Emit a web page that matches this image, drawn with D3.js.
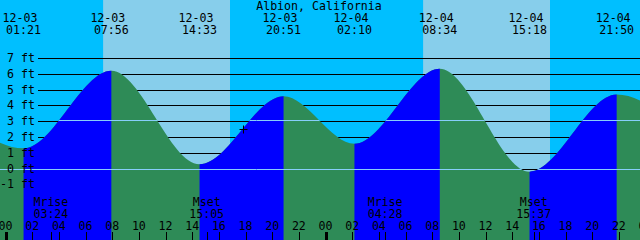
<!DOCTYPE html>
<html>
<head>
<meta charset="utf-8">
<script src="https://cdn.jsdelivr.net/npm/d3@7"></script>
<style>
  body { margin: 0; background: #fff; }
  svg { display: block; }
  text { font-family: "DejaVu Sans Mono", monospace; font-size: 11.6px; fill: #000; }
</style>
</head>
<body>
<div id="chart"></div>
<script>
// tide extremes (first and last are just outside the window)
var tideTimes = ["12-02 19:09", "12-03 01:21", "12-03 07:56", "12-03 14:33", "12-03 20:51",
                 "12-04 02:10", "12-04 08:34", "12-04 15:18", "12-04 21:50", "12-05 03:00"];
var tideLevels = [4.5, 1.28, 6.2, 0.27, 4.58, 1.57, 6.32, -0.2, 4.68, 2.2];

var sunRise = ["12-03 07:19", "12-04 07:19"];
var sunSet = ["12-03 16:50", "12-04 16:50"];

var moonTimes = ["12-03 03:24", "12-03 15:05", "12-04 04:28", "12-04 15:37"];
var moonNames = ["Mrise", "Mset", "Mrise", "Mset"];

var levelTicks = [-1, 0, 1, 2, 3, 4, 5, 6, 7];
var meanLevel = 3.05;
var markTime = "12-03 17:50";
var markLevel = 2.5;
var title = "Albion, California";

var width = 640, height = 240;

var parse = d3.timeParse("%m-%d %H:%M");
var fmtDate = d3.timeFormat("%m-%d");
var fmtTime = d3.timeFormat("%H:%M");

var tides = tideTimes.map(function(t, i) { return { t: parse(t), v: tideLevels[i] }; });

// window starts a little before midnight
var start = parse("12-02 23:35");
var end = d3.timeHour.offset(start, 48);

var x = d3.scaleTime().domain([start, end]).range([0, width]);
var y = d3.scaleLinear().domain([0, 7]).range([168.5, 58]);

var svg = d3.select("#chart").append("svg")
  .attr("width", width)
  .attr("height", height);

// night / day background
svg.append("rect").attr("width", width).attr("height", height).attr("fill", "#00bfff");
svg.selectAll(".day")
  .data(sunRise)
  .enter().append("rect")
  .attr("class", "day")
  .attr("x", function(d) { return x(parse(d)); })
  .attr("width", function(d, i) { return x(parse(sunSet[i])) - x(parse(d)); })
  .attr("y", 0)
  .attr("height", height)
  .attr("fill", "#87ceeb");

// grid lines
svg.selectAll(".grid")
  .data(levelTicks)
  .enter().append("line")
  .attr("class", "grid")
  .attr("x1", 38).attr("x2", width)
  .attr("y1", function(d) { return Math.round(y(d)) + 0.5; })
  .attr("y2", function(d) { return Math.round(y(d)) + 0.5; })
  .attr("stroke", "#000");

// water
var area = d3.area()
  .x(function(d) { return x(d.t); })
  .y0(height)
  .y1(function(d) { return y(d.v); })
  .curve(d3.curveMonotoneX);

var defs = svg.append("defs");
var rising = defs.append("clipPath").attr("id", "rising");
for (var i = 0; i < tides.length - 1; i++) {
  if (tides[i + 1].v > tides[i].v) {
    rising.append("rect")
      .attr("x", x(tides[i].t))
      .attr("width", x(tides[i + 1].t) - x(tides[i].t))
      .attr("y", 0).attr("height", height);
  }
}
defs.append("clipPath").attr("id", "water")
  .append("path").attr("d", area(tides));

svg.append("path").attr("d", area(tides)).attr("fill", "#2e8b57");
svg.append("path").attr("d", area(tides)).attr("fill", "#0000ff")
  .attr("clip-path", "url(#rising)");

// datum and mean lines over the water
svg.append("g").attr("clip-path", "url(#water)")
  .selectAll("line")
  .data([0, meanLevel])
  .enter().append("line")
  .attr("x1", 0).attr("x2", width)
  .attr("y1", function(d) { return Math.round(y(d)) + 0.5; })
  .attr("y2", function(d) { return Math.round(y(d)) + 0.5; })
  .attr("stroke", "#87cefa");

// level labels
svg.selectAll(".lvl")
  .data(levelTicks)
  .enter().append("text")
  .attr("class", "lvl")
  .attr("x", 35)
  .attr("y", function(d) { return y(d) + 4; })
  .attr("text-anchor", "end")
  .text(function(d) { return d + " ft"; });

// title
svg.append("text").attr("x", 319).attr("y", 10).attr("text-anchor", "middle").text(title);

// high / low labels
var shown = tides.filter(function(d) { return x(d.t) >= 0 && x(d.t) <= width; });
var ev = svg.selectAll(".ev").data(shown).enter().append("g").attr("class", "ev");
ev.append("text")
  .attr("x", function(d) { return x(d.t) - 3.5; })
  .attr("y", 21.5)
  .attr("text-anchor", "middle")
  .text(function(d) { return fmtDate(d.t); });
ev.append("text")
  .attr("x", function(d) { return x(d.t); })
  .attr("y", 33.5)
  .attr("text-anchor", "middle")
  .text(function(d) { return fmtTime(d.t); });

// moon labels
var moon = svg.selectAll(".moon").data(moonTimes).enter().append("g").attr("class", "moon");
moon.append("text")
  .attr("x", function(d) { return x(parse(d)); })
  .attr("y", 205.5)
  .attr("text-anchor", "middle")
  .text(function(d, i) { return moonNames[i]; });
moon.append("text")
  .attr("x", function(d) { return x(parse(d)); })
  .attr("y", 217.5)
  .attr("text-anchor", "middle")
  .text(function(d) { return d.slice(6); });
moon.append("line")
  .attr("x1", function(d) { return Math.round(x(parse(d))) + 0.5; })
  .attr("x2", function(d) { return Math.round(x(parse(d))) + 0.5; })
  .attr("y1", 232).attr("y2", height)
  .attr("stroke", "#000");

// hour axis
var hours = d3.timeHour.every(2).range(start, d3.timeHour.offset(end, 2));
svg.selectAll(".hr")
  .data(hours)
  .enter().append("text")
  .attr("class", "hr")
  .attr("x", function(d) { return x(d); })
  .attr("y", 229.5)
  .attr("text-anchor", "middle")
  .text(d3.timeFormat("%H"));
svg.selectAll(".htick")
  .data(hours)
  .enter().append("line")
  .attr("class", "htick")
  .attr("x1", function(d) { return Math.round(x(d)) + 0.5; })
  .attr("x2", function(d) { return Math.round(x(d)) + 0.5; })
  .attr("y1", 232).attr("y2", height)
  .attr("stroke", "#000")
  .attr("stroke-width", function(d) { return d.getHours() === 0 ? 3 : 1; });

// current time mark
var mx = Math.round(x(parse(markTime))) + 0.5, my = Math.round(y(markLevel)) + 0.5;
svg.append("path")
  .attr("d", "M" + (mx - 4) + "," + my + "H" + (mx + 4) + "M" + mx + "," + (my - 4) + "V" + (my + 4))
  .attr("stroke", "#000")
  .attr("fill", "none");
</script>
</body>
</html>
